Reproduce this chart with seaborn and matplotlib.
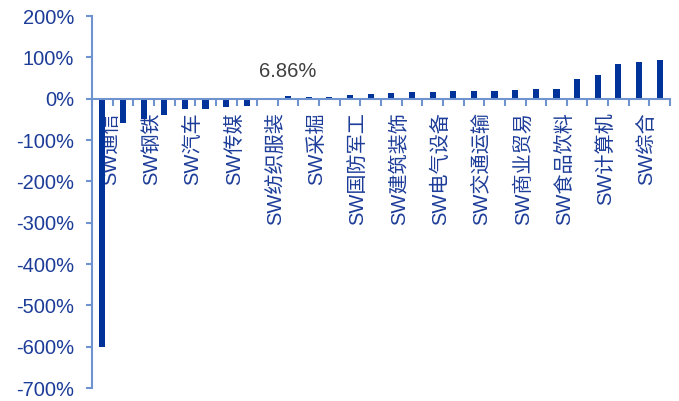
import matplotlib
matplotlib.use("Agg")
import matplotlib.pyplot as plt
import matplotlib.transforms as mtransforms
from matplotlib.ticker import FixedLocator, FuncFormatter
import seaborn as sns
import pandas as pd

# Shenwan industry returns (%), sorted ascending; only every other category is labelled
categories = ["SW通信", "", "SW钢铁", "", "SW汽车", "", "SW传媒", "",
              "SW纺织服装", "", "SW采掘", "", "SW国防军工", "",
              "SW建筑装饰", "", "SW电气设备", "", "SW交通运输", "",
              "SW商业贸易", "", "SW食品饮料", "", "SW计算机", "", "SW综合", ""]
values = [-601, -60, -49, -39, -25, -25, -20, -18, -2, 6.86,
          4.5, 5, 8, 11, 14, 15, 15, 19, 19, 19,
          21, 23, 23, 48, 58, 84, 89, 93]
yticks = [200, 100, 0, -100, -200, -300, -400, -500, -600, -700]
annotated_index = 9

bar_color = "#003399"
axis_color = "#6F93CF"
tick_text_color = "#1C3C98"

sns.set_theme(style="white")
plt.rcParams["font.family"] = ["Liberation Sans", "Noto Sans CJK SC", "DejaVu Sans"]
plt.rcParams["axes.unicode_minus"] = False

df = pd.DataFrame({"pos": list(range(len(values))), "ret": values})

fig = plt.figure(figsize=(6.79, 4.01), dpi=100)
ax = fig.add_axes([92 / 679, 1 - 388 / 401, (670 - 92) / 679, (388 - 16) / 401])

sns.barplot(data=df, x="pos", y="ret", color=bar_color, saturation=1,
            width=0.3, linewidth=0, ax=ax, errorbar=None)

ax.set_xlim(-0.5, len(values) - 0.5)
ax.set_ylim(-700, 200)
ax.set_xlabel("")
ax.set_ylabel("")

# spines: left axis plus category axis through zero
for side in ("top", "right"):
    ax.spines[side].set_visible(False)
ax.spines["left"].set_color(axis_color)
ax.spines["left"].set_linewidth(1.5)
ax.spines["bottom"].set_position(("data", 0))
ax.spines["bottom"].set_color(axis_color)
ax.spines["bottom"].set_linewidth(1.5)

# y axis
ax.yaxis.set_major_locator(FixedLocator(yticks))
ax.yaxis.set_major_formatter(FuncFormatter(lambda v, p: f"{v:.0f}%"))
ax.tick_params(axis="y", which="major", direction="out", length=4, width=1.5,
               color=axis_color, labelcolor=tick_text_color, labelsize=14.5, pad=9,
               left=True)

# x axis: labels at category centres, tick marks at category boundaries
ax.set_xticks(list(range(len(values))))
ax.set_xticklabels(categories, rotation=90)
ax.set_xticks([i - 0.5 for i in range(len(values) + 1)], minor=True)
ax.tick_params(axis="x", which="major", length=0, labelcolor=tick_text_color,
               labelsize=14.5, pad=10, bottom=True)
ax.tick_params(axis="x", which="minor", direction="out", length=5, width=1.5,
               color=axis_color, bottom=True)
shift = mtransforms.ScaledTranslation(0.08, 0, fig.dpi_scale_trans)
for lbl in ax.get_xticklabels():
    lbl.set_transform(lbl.get_transform() + shift)

ax.grid(False)

# value annotation
ax.annotate(f"{values[annotated_index]:.2f}%",
            xy=(annotated_index, values[annotated_index]),
            xytext=(0, 11), textcoords="offset points",
            ha="center", va="bottom", fontsize=14.5, color="#404040")

fig.savefig("out.png", dpi=100)
